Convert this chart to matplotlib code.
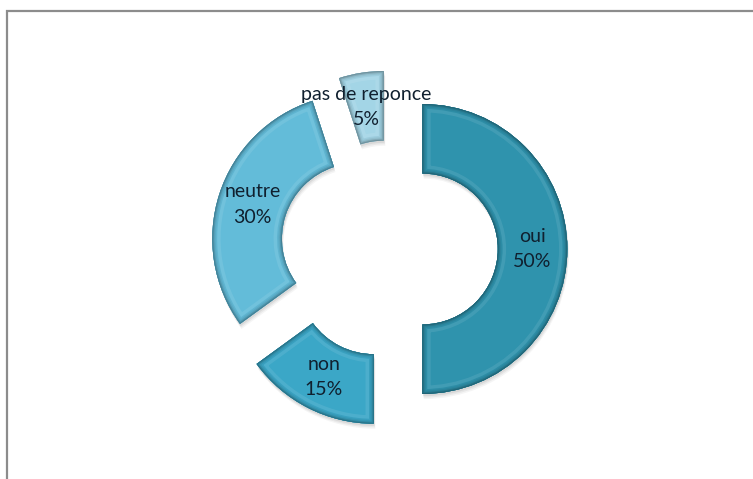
import matplotlib.pyplot as plt
import numpy as np
from matplotlib.patches import Wedge, Rectangle
from matplotlib.colors import to_rgb

plt.rcParams['font.family'] = ['Lato', 'DejaVu Sans']

labels = ['oui', 'non', 'neutre', 'pas de reponce']
values = [50, 15, 30, 5]
colors = ['#2f93ad', '#3ba7c7', '#63bcd9', '#a3d5e6']

W, H = 753, 479
cx_px, cy_px = 389, 249      # pie centre in pixels
r_px = 145                   # outer radius in pixels
hole = 0.48                  # ring width (fraction of radius)
explode = 0.23


def shade(c, f):
    c = np.array(to_rgb(c))
    if f < 0:
        return tuple(c * (1 + f))
    return tuple(c + (1 - c) * f)


fig = plt.figure(figsize=(W / 100, H / 100), dpi=100)
ax = fig.add_axes([0, 0, 1, 1])
ax.set_xlim(-cx_px / r_px, (W - cx_px) / r_px)
ax.set_ylim(-(H - cy_px) / r_px, cy_px / r_px)
ax.set_aspect('equal')
ax.axis('off')

# chart area border (only top and left edges visible)
fig.add_artist(Rectangle((7 / W, -0.1), 1.2, 1.1 - 10.5 / H,
                         transform=fig.transFigure, fill=False,
                         edgecolor='#8c8c8c', linewidth=1.6))

total = sum(values)
start = 90.0
for lab, v, col in zip(labels, values, colors):
    sweep = 360.0 * v / total
    t1, t2 = start - sweep, start
    mid = np.deg2rad((t1 + t2) / 2)
    ox, oy = explode * np.cos(mid), explode * np.sin(mid)

    # soft drop shadow
    for k, a in enumerate([0.05, 0.07, 0.09]):
        d = 0.035 - k * 0.01
        ax.add_patch(Wedge((ox + d * 0.3, oy - d), 1.0, t1, t2, width=hole,
                           facecolor='#404040', edgecolor='none', alpha=a,
                           zorder=1))

    face = Wedge((ox, oy), 1.0, t1, t2, width=hole, facecolor=col,
                 edgecolor='none', zorder=2)
    ax.add_patch(face)

    # bevel: darker rim fading into the face, clipped to the wedge
    hl = Wedge((ox, oy), 1.0, t1, t2, width=hole, facecolor='none',
               edgecolor=shade(col, 0.3), linewidth=12, alpha=0.3,
               zorder=3)
    ax.add_patch(hl)
    hl.set_clip_path(face)
    for lw, f in [(7, -0.04), (5, -0.1), (3, -0.2), (1.4, -0.32)]:
        rim = Wedge((ox, oy), 1.0, t1, t2, width=hole, facecolor='none',
                    edgecolor=shade(col, f), linewidth=lw, zorder=3,
                    joinstyle='round')
        ax.add_patch(rim)
        rim.set_clip_path(face)

    rm = 1.0 - hole / 2
    ax.text(ox + rm * np.cos(mid), oy + rm * np.sin(mid),
            '%s\n%d%%' % (lab, v), ha='center', va='center',
            fontsize=14, color='#10202f', linespacing=1.6, zorder=5)
    start = t1

fig.savefig('out.png', dpi=100)
